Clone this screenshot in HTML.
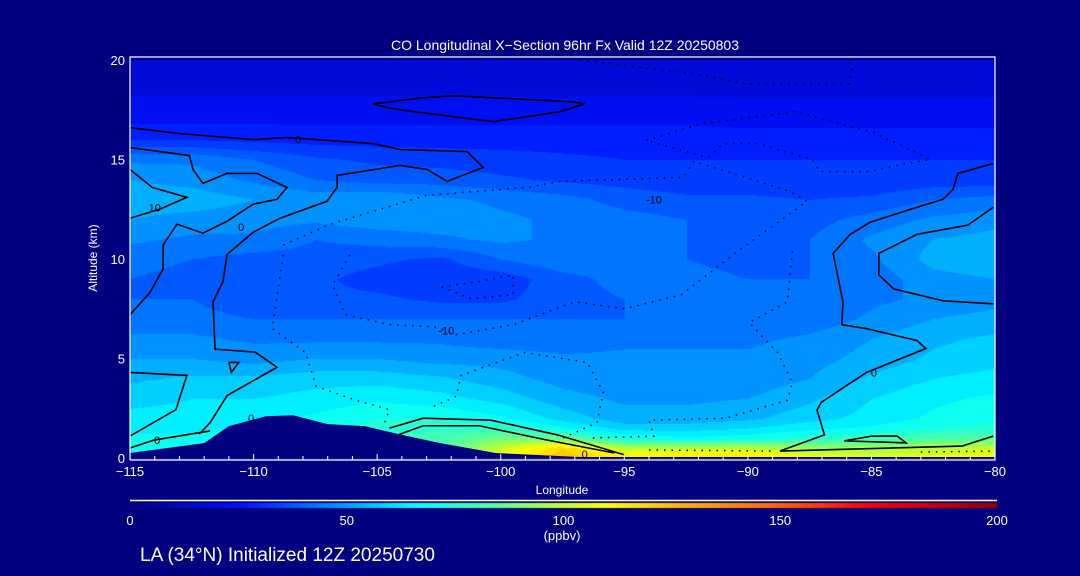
<!DOCTYPE html>
<html><head><meta charset="utf-8"><style>
html,body{margin:0;padding:0;background:#000080;width:1080px;height:576px;overflow:hidden}
#wrap{position:relative;width:1080px;height:576px;font-family:"Liberation Sans",sans-serif;color:#fff}
canvas,svg{position:absolute;left:0;top:0}
</style></head><body>
<div id="wrap">
<canvas id="cv" width="1080" height="576"></canvas>
<svg id="sv" width="1080" height="576"></svg>
</div>
<script>
// ---- data ----
const lons = [-115,-112.5,-110,-107.5,-105,-102.5,-100,-97.5,-95,-92.5,-90,-87.5,-85,-82.5,-80];
const alts = [20,18.5,17,16,15,14,13,12,11,10,9,8,7,6,5,4,3,2,1.5,1,0.5,0];
const coValues = [
[15,15,15,15,15,15,15,15,15,15,15,15,15,15,15],
[19,19,19,19,19,19,19,19,19,19,19,19,19,19,19],
[24,24,24,24,24,24,24,24,24,24,23,23,23,23,23],
[30,30,29,28,28,28,28,28,28,28,28,28,28,28,28],
[44,44,40,36,34,33,32,31,30,30,30,30,30,30,30],
[50,48,44,40,38,38,36,34,33,32,32,31,31,32,32],
[53,53,50,48,50,46,44,42,38,36,36,35,36,40,42],
[50,48,47,46,48,48,46,44,42,40,38,38,42,46,48],
[46,44,44,40,42,44,46,44,42,40,38,40,46,50,52],
[42,40,38,38,36,34,40,44,42,40,38,40,44,52,54],
[40,38,36,36,33,31,32,38,42,42,40,40,42,48,50],
[40,40,36,36,36,34,34,38,40,40,40,40,44,46,48],
[42,42,40,40,40,40,40,40,40,40,40,42,46,50,52],
[46,46,44,44,44,44,42,42,44,44,44,46,50,54,56],
[50,50,48,50,50,48,48,46,46,46,46,48,52,56,58],
[54,56,56,58,58,56,52,48,46,46,47,50,56,60,62],
[58,60,60,62,64,62,58,52,49,49,50,54,60,64,66],
[62,62,64,66,70,70,66,58,52,52,54,58,62,66,68],
[64,64,66,70,72,74,74,66,58,58,60,64,66,70,72],
[66,66,68,72,76,78,88,85,70,66,68,72,76,80,82],
[68,68,70,74,78,80,100,120,98,100,100,94,94,98,100],
[70,70,72,76,80,82,110,125,115,118,118,110,105,108,110]];
const terrainLon = [-115,-112,-111,-109.5,-108.4,-107,-105.5,-104,-102.5,-100.2,-96.8,-80];
const terrainAlt = [0.25,0.75,1.6,2.1,2.15,1.7,1.6,1.16,0.76,0.25,0.05,0.05];
const cbarTicks = [0,50,100,150,200];
const xTicks = [-115,-110,-105,-100,-95,-90,-85,-80];
const yTicks = [0,5,10,15,20];
const solidLines = [
[[-115,16.6],[-112.98,16.3],[-110.02,16.0],[-108.65,16.1],[-105.17,15.8],[-104.07,15.5],[-101.36,15.4],[-100.71,14.6],[-102.17,13.9],[-102.98,14.5],[-104.07,14.7],[-106.62,14.2],[-106.62,13.6],[-107.03,12.9],[-108.93,12.05],[-110.02,11.34],[-111.07,10.23],[-111.24,8.86],[-111.64,7.85],[-111.56,5.47],[-109.94,5.32],[-109.05,4.56],[-111.07,3.14],[-111.76,1.77],[-112.2,1.2]],
[[-115,15.6],[-112.6,15.2],[-112.45,14.5],[-112.05,13.8],[-111.07,14.3],[-109.86,14.3],[-108.65,13.6],[-109.05,13.0],[-110.02,12.75],[-111.07,11.9],[-112.05,11.3],[-113.1,11.75],[-113.66,10.7],[-113.66,9.5],[-114.2,8.3],[-115,7.2]],
[[-115,14.5],[-114.1,13.6],[-112.7,13.1],[-113.8,12.5],[-115,12.05]],
[[-105.17,17.8],[-103.14,18.1],[-101.9,18.2],[-97.1,17.9],[-96.6,17.8],[-97.6,17.4],[-100.3,16.9],[-103.5,17.4],[-104.6,17.6],[-105.17,17.8]],
[[-80.07,14.8],[-81.5,14.3],[-81.7,13.5],[-82.1,13.0],[-83.0,12.66],[-85.05,11.85],[-85.86,11.24],[-86.55,10.28],[-86.15,7.85],[-86.2,6.7],[-85.2,6.5],[-83.15,5.9],[-82.8,5.5],[-85.2,4.3],[-87.03,2.8],[-87.2,2.4],[-86.9,1.16],[-88.7,0.35],[-81.33,0.6],[-80.07,1.1]],
[[-80.07,12.6],[-81.1,11.7],[-83.15,11.24],[-84.7,10.28],[-84.7,9.2],[-84.1,8.5],[-82.1,7.9],[-80.07,7.75]],
[[-86.1,0.86],[-84.97,1.1],[-83.96,1.1],[-83.6,0.76],[-86.1,0.86]],
[[-104.15,1.16],[-103.14,1.62],[-100.87,1.62],[-98.16,0.91],[-95.4,0.25]],
[[-104.5,1.5],[-103.14,2.0],[-100.4,1.9],[-97.7,1.16],[-94.97,0.15]],
[[-115,0.5],[-114.03,0.9],[-111.76,1.36]],
[[-115,4.3],[-112.7,4.15],[-113.14,2.43],[-115,1.1]],
[[-111,4.8],[-110.6,4.8],[-110.9,4.3],[-111,4.8]]];
const dottedLines = [
[[-108.8,10.2],[-109.25,6.5],[-107.9,5.3],[-107.47,3.6],[-105.85,2.9],[-104.5,2.43],[-104.7,1.77]],
[[-106.1,10.2],[-106.8,8.7],[-106.3,7.2],[-104.5,6.7],[-102.7,6.6],[-101.8,6.2],[-99.5,6.7],[-97.0,7.85],[-95.0,7.5],[-92.7,8.2],[-90.4,10.4],[-87.6,12.9],[-88.3,13.4],[-90.6,14.3],[-92.2,14.9],[-92.6,14.1],[-97.6,13.9],[-98.9,13.6],[-103,13.2],[-106.9,11.75],[-108.8,10.7]],
[[-94.1,15.95],[-91.9,16.8],[-88.1,17.4],[-84.9,16.35],[-82.6,15.0],[-83.6,14.8],[-85.05,14.4],[-87.1,14.4],[-87.4,15.0],[-89.6,15.8],[-91.0,15.8],[-91.6,15.1],[-94.1,15.95]],
[[-96.8,20],[-92.2,19.3],[-90.0,18.8],[-85.9,18.8],[-85.8,19.5],[-85.9,20]],
[[-102.7,2.6],[-101.8,3.1],[-101.6,4.15],[-99.05,5.3],[-96.5,4.8],[-95.85,3.3],[-96.1,1.77],[-97.5,1.0]],
[[-88.2,10.4],[-88.4,7.85],[-89.95,6.8],[-88.8,5.3],[-88.2,3.8],[-88.4,2.9],[-90.9,2.0],[-94.0,1.9],[-93.8,1.1],[-96.5,1.0]],
[[-102.4,8.6],[-100.7,8.9],[-99.5,9.2],[-99.5,8.2],[-101.2,8.0],[-102.4,8.6]],
[[-94,0.4],[-89,0.35]],[[-83,0.3],[-80,0.35]]];
const contourLabels = [["0",-108.2,16.0],["10",-114.0,12.6],["0",-110.5,11.6],["-10",-93.8,13.0],["-10",-102.2,6.4],["0",-84.9,4.3],["0",-110.1,2.0],["0",-113.9,0.9],["0",-96.6,0.2]];

// ---- axes ----
const X0=130,X1=995,Y0=60,Y1=458;
const xs = lon => X0+(lon+115)/35*(X1-X0);
const ys = a => Y1-a/20*(Y1-Y0);
const cmapStops=[[0,[0,0,128]],[25,[0,16,255]],[50,[0,160,255]],[65,[0,255,255]],[85,[100,255,140]],[100,[200,255,40]],[110,[255,255,0]],[130,[255,170,0]],[150,[255,100,0]],[170,[255,0,0]],[200,[150,0,0]]];
function cmap(v){v=Math.max(0,Math.min(200,v));for(let i=1;i<cmapStops.length;i++){if(v<=cmapStops[i][0]){const a=cmapStops[i-1],b=cmapStops[i];const t=(v-a[0])/(b[0]-a[0]);return a[1].map((c,k)=>Math.round(c+(b[1][k]-c)*t));}}return cmapStops[cmapStops.length-1][1];}
function field(lon,alt){
  let j=0;while(j<lons.length-2&&lon>lons[j+1])j++;
  let i=0;while(i<alts.length-2&&alt<alts[i+1])i++;
  const tx=Math.max(0,Math.min(1,(lon-lons[j])/(lons[j+1]-lons[j])));
  const ty=Math.max(0,Math.min(1,(alt-alts[i])/(alts[i+1]-alts[i])));
  const a=coValues[i][j],b=coValues[i][j+1],c=coValues[i+1][j],d=coValues[i+1][j+1];
  return (a*(1-tx)+b*tx)*(1-ty)+(c*(1-tx)+d*tx)*ty;
}
const ctx=document.getElementById('cv').getContext('2d');
const img=ctx.createImageData(X1-X0,Y1-Y0);
for(let py=0;py<Y1-Y0;py++)for(let px=0;px<X1-X0;px++){
  const lon=-115+px/(X1-X0)*35, alt=20-py/(Y1-Y0)*20;
  let v=field(lon,alt); v=Math.floor(v/5)*5+2.5;
  const c=cmap(v);const k=(py*(X1-X0)+px)*4;img.data[k]=c[0];img.data[k+1]=c[1];img.data[k+2]=c[2];img.data[k+3]=255;}
ctx.putImageData(img,X0,Y0);
// colorbar
for(let px=X0;px<997;px++){const c=cmap((px-X0)/(997-X0)*200);ctx.fillStyle=`rgb(${c[0]},${c[1]},${c[2]})`;ctx.fillRect(px,503,1,5);}

const NS='http://www.w3.org/2000/svg';const sv=document.getElementById('sv');
function mk(t,attrs,parent){const e=document.createElementNS(NS,t);for(const k in attrs)e.setAttribute(k,attrs[k]);(parent||sv).appendChild(e);return e;}
// terrain
let tp=`M${xs(-115)},${Y1} `+terrainLon.map((l,i)=>`L${xs(l)},${ys(terrainAlt[i])}`).join(' ')+` L${xs(-80)},${Y1} Z`;
const terr=mk('path',{d:tp,fill:'#000080'});


solidLines.forEach(l=>{const p=mk('polyline',{points:l.map(q=>xs(q[0])+','+ys(q[1])).join(' '),fill:'none',stroke:'#000','stroke-width':1.6});

});
dottedLines.forEach(l=>{const p=mk('polyline',{points:l.map(q=>xs(q[0])+','+ys(q[1])).join(' '),fill:'none',stroke:'#000','stroke-width':1.5,'stroke-dasharray':'1.5 6'});

});
contourLabels.forEach(c=>{const t=mk('text',{x:xs(c[1]),y:ys(c[2])+4,'font-size':11,fill:'#000','text-anchor':'middle'});t.textContent=c[0];

});
// frame
const fr=mk('path',{d:`M${X0},${Y1+2} L${X0},${Y0-3} L${X1},${Y0-3} L${X1},${Y1+2} L${X0},${Y1+2}`,fill:'none',stroke:'#fff','stroke-width':1.2});


for(let l=-115;l<=-80;l++){const major=l%5===0;mk('line',{x1:xs(l),x2:xs(l),y1:Y1+2,y2:Y1+2-(major?6:4),stroke:'#fff'});}
xTicks.forEach(l=>{const t=mk('text',{x:xs(l),y:476,'font-size':13,fill:'#fff','text-anchor':'middle'});t.textContent='\u2212'+Math.abs(l);

});
yTicks.forEach(a=>{const t=mk('text',{x:125,y:ys(a)+5,'font-size':13,fill:'#fff','text-anchor':'end'});t.textContent=a;

});
mk('line',{x1:X0,x2:997,y1:500.5,y2:500.5,stroke:'#fff','stroke-width':1.5});
cbarTicks.forEach(v=>{const t=mk('text',{x:X0+v/200*(997-X0),y:525,'font-size':13,fill:'#fff','text-anchor':'middle'});t.textContent=v;

});
function txt(s,attrs,name){const t=mk('text',attrs);t.textContent=s;

}
txt('CO Longitudinal X\u2212Section 96hr  Fx Valid 12Z 20250803',{x:565,y:50,'font-size':14,fill:'#fff','text-anchor':'middle','xml:space':'preserve'},'chart-title');
txt('Longitude',{x:562,y:494,'font-size':12,fill:'#fff','text-anchor':'middle'},'x-axis-title');
txt('Altitude (km)',{x:97,y:258,'font-size':12,fill:'#fff','text-anchor':'middle',transform:'rotate(-90 97 258)'},'y-axis-title');
txt('(ppbv)',{x:562,y:540,'font-size':13,fill:'#fff','text-anchor':'middle'},'colorbar-units');
txt('LA (34\u00b0N) Initialized 12Z 20250730',{x:140,y:561,'font-size':19,fill:'#fff'},'run-info-label');
</script>
</body></html>
